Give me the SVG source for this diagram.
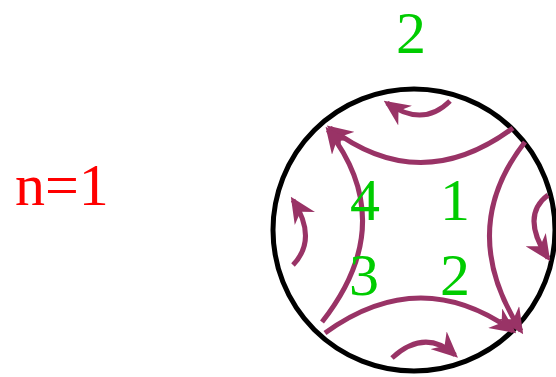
<svg xmlns="http://www.w3.org/2000/svg" width="556" height="377" viewBox="0 0 556 377">
<style>
.c{fill:none;stroke:#993366;stroke-width:5;stroke-linecap:butt;marker-end:url(#ah)}
.g{fill:#00CC00;font-family:"Liberation Serif",serif;font-size:60px;text-anchor:middle}
</style>
<defs>
<marker id="ah" viewBox="0 0 26 24" refX="22" refY="12" markerWidth="26" markerHeight="24" markerUnits="userSpaceOnUse" orient="auto">
<path d="M0,0 L26,12 L0,24 L8,12 z" fill="#993366"/>
</marker>
</defs>
<rect width="556" height="377" fill="#fff"/>
<g id="circle"><circle cx="414" cy="230" r="141" fill="none" stroke="#000" stroke-width="5"/></g>
<g id="connectors">
<path class="c" d="M513,128 Q420,197 330,128"/>
<path class="c" d="M322,322 Q400,223 328,130"/>
<path class="c" d="M525,142 Q456,230 521,331"/>
<path class="c" d="M325,333 Q420,264 513,331"/>
<path class="c" d="M450,101 Q423,128 387,103"/>
<path class="c" d="M548,195 Q520,216 548,258"/>
<path class="c" d="M392,358 Q425,328 455,355"/>
<path class="c" d="M293,265 Q318,239 293,200"/>
</g>
<g id="labels">
<text class="g" x="411" y="53">2</text>
<text class="g" x="365" y="220">4</text>
<text class="g" x="455" y="220">1</text>
<text class="g" x="364" y="295">3</text>
<text class="g" x="455" y="295">2</text>
<text x="15" y="205" fill="#FF0000" font-family="Liberation Serif, serif" font-size="60">n=1</text>
</g>
</svg>
